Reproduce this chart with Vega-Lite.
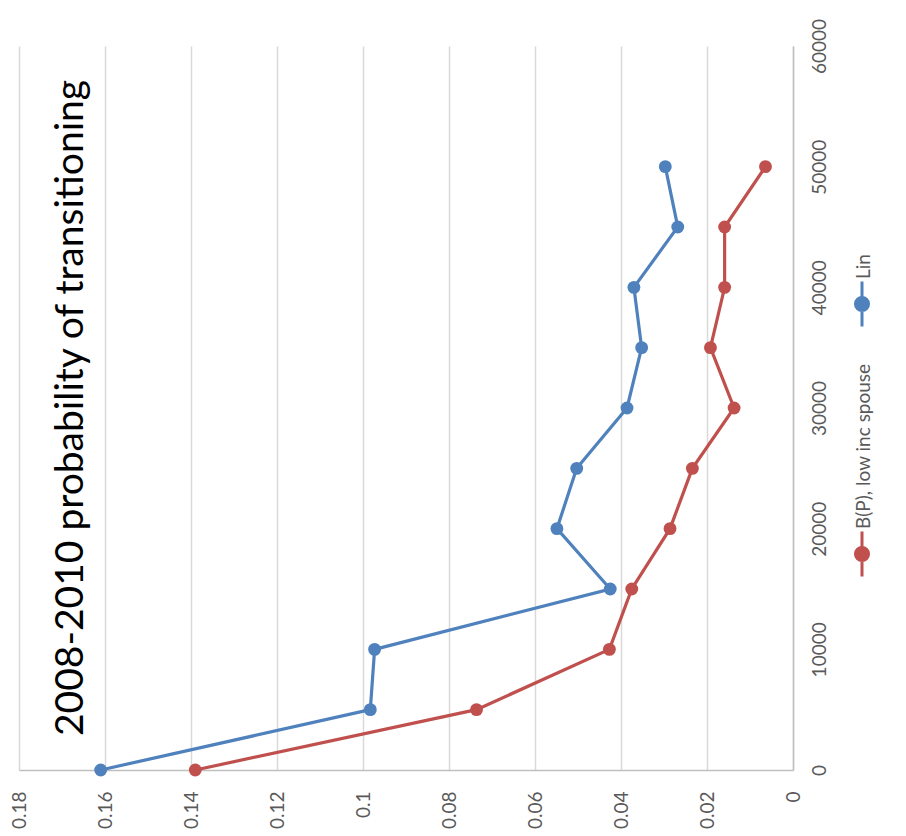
{
  "$schema": "https://vega.github.io/schema/vega-lite/v6.json",
  "autosize": "none",
  "width": 774,
  "height": 724,
  "padding": {"left": 19, "top": 46, "right": 113, "bottom": 66},
  "background": "#ffffff",
  "config": {
    "font": "Lato",
    "view": {"stroke": null},
    "axis": {"labelFont": "Lato", "labelFontSize": 19, "labelColor": "#595959", "ticks": false, "title": null}
  },
  "title": {
    "text": "2008-2010 probability of transitioning",
    "orient": "left",
    "anchor": "middle",
    "frame": "group",
    "offset": -81,
    "font": "Lato",
    "fontSize": 39,
    "fontWeight": "normal",
    "color": "#000000"
  },
  "data": {
    "values": [
      {"series": "Lin", "income": 0, "p": 0.161},
      {"series": "Lin", "income": 5000, "p": 0.0983},
      {"series": "Lin", "income": 10000, "p": 0.0973},
      {"series": "Lin", "income": 15000, "p": 0.0425},
      {"series": "Lin", "income": 20000, "p": 0.0549},
      {"series": "Lin", "income": 25000, "p": 0.0503},
      {"series": "Lin", "income": 30000, "p": 0.0386},
      {"series": "Lin", "income": 35000, "p": 0.0352},
      {"series": "Lin", "income": 40000, "p": 0.037},
      {"series": "Lin", "income": 45000, "p": 0.0268},
      {"series": "Lin", "income": 50000, "p": 0.0297},
      {"series": "B(P), low inc spouse", "income": 0, "p": 0.139},
      {"series": "B(P), low inc spouse", "income": 5000, "p": 0.0736},
      {"series": "B(P), low inc spouse", "income": 10000, "p": 0.0427},
      {"series": "B(P), low inc spouse", "income": 15000, "p": 0.0375},
      {"series": "B(P), low inc spouse", "income": 20000, "p": 0.0286},
      {"series": "B(P), low inc spouse", "income": 25000, "p": 0.0234},
      {"series": "B(P), low inc spouse", "income": 30000, "p": 0.0137},
      {"series": "B(P), low inc spouse", "income": 35000, "p": 0.0192},
      {"series": "B(P), low inc spouse", "income": 40000, "p": 0.0159},
      {"series": "B(P), low inc spouse", "income": 45000, "p": 0.0159},
      {"series": "B(P), low inc spouse", "income": 50000, "p": 0.0064}
    ]
  },
  "mark": {"type": "line", "strokeWidth": 3.2, "point": {"filled": true, "size": 165, "opacity": 1}},
  "encoding": {
    "x": {
      "field": "p",
      "type": "quantitative",
      "scale": {"domain": [0, 0.18], "reverse": true, "nice": false, "zero": false},
      "axis": {
        "orient": "bottom",
        "values": [0, 0.02, 0.04, 0.06, 0.08, 0.1, 0.12, 0.14, 0.16, 0.18],
        "format": ".2~f",
        "labelAngle": 270,
        "labelAlign": "right",
        "labelBaseline": "middle",
        "labelPadding": 21,
        "domainColor": "#bfbfbf",
        "domainWidth": 1.5,
        "grid": true,
        "gridColor": "#d9d9d9",
        "gridWidth": 1.5
      }
    },
    "y": {
      "field": "income",
      "type": "quantitative",
      "scale": {"domain": [0, 60000], "nice": false},
      "axis": {
        "orient": "right",
        "values": [0, 10000, 20000, 30000, 40000, 50000, 60000],
        "format": "d",
        "labelAngle": 270,
        "labelAlign": "center",
        "labelBaseline": "top",
        "labelPadding": 17,
        "domainColor": "#bfbfbf",
        "domainWidth": 1.5,
        "grid": false
      }
    },
    "order": {"field": "income", "type": "quantitative"},
    "color": {
      "field": "series",
      "type": "nominal",
      "scale": {"domain": ["Lin", "B(P), low inc spouse"], "range": ["#4F81BD", "#C0504D"]},
      "legend": {
        "title": null,
        "orient": "none",
        "direction": "vertical",
        "legendX": 819,
        "legendY": 234,
        "padding": 0,
        "symbolType": "M0,-1L0,1M0.29,0A0.29,0.29 0 1,1 -0.29,0A0.29,0.29 0 1,1 0.29,0",
        "symbolSize": 2025,
        "symbolStrokeWidth": 3,
        "labelOffset": 0,
        "labelFont": "Lato",
        "labelFontSize": 19,
        "labelColor": "#595959",
        "labelLimit": 400,
        "rowPadding": 30,
        "encode": {
          "symbols": {"update": {"fill": {"scale": "color", "field": "value"}, "stroke": {"scale": "color", "field": "value"}, "fillOpacity": {"value": 1}, "strokeWidth": {"value": 3}}},
          "labels": {"update": {"angle": {"value": -90}, "align": {"value": "left"}, "baseline": {"value": "middle"}, "dx": {"value": 25}, "dy": {"value": -22.5}}}
        }
      }
    }
  }
}
